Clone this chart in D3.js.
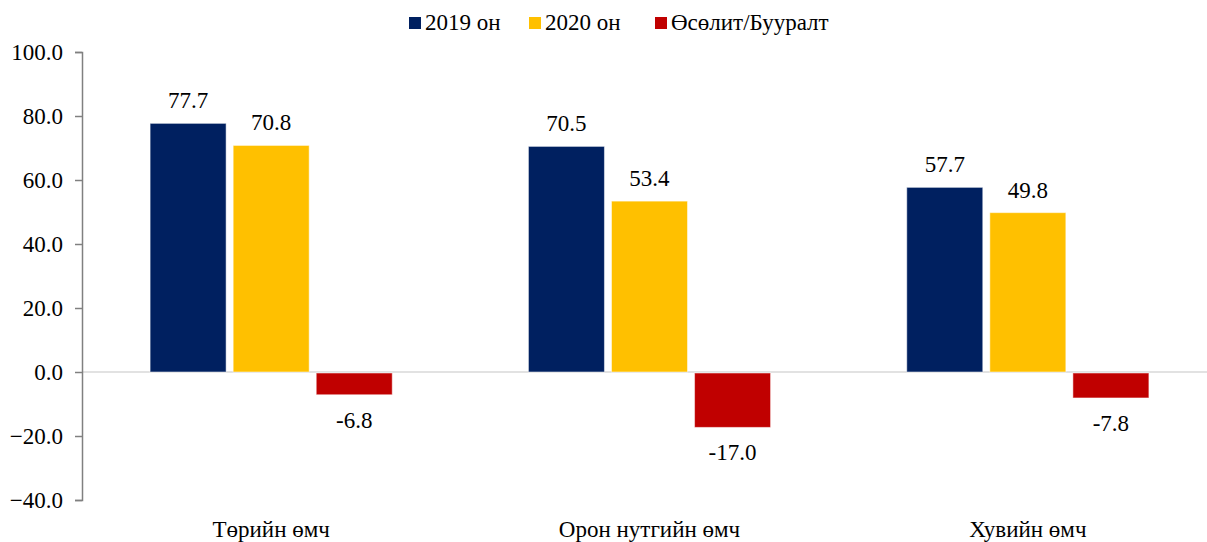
<!DOCTYPE html>
<html>
<head>
<meta charset="utf-8">
<script src="https://cdn.jsdelivr.net/npm/d3@7"></script>
<style>
  body { margin: 0; background: #fff; }
  svg text { font-family: "Liberation Serif", "Times New Roman", serif; }
</style>
</head>
<body>
<svg id="chart" width="1207" height="542"></svg>
<script>
// chart data
const categories = ["Төрийн өмч", "Орон нутгийн өмч", "Хувийн өмч"];
const seriesNames = ["2019 он", "2020 он", "Өсөлит/Бууралт"];
const values2019 = [77.7, 70.5, 57.7];
const values2020 = [70.8, 53.4, 49.8];
const valuesChange = [-6.8, -17.0, -7.8];
const yTicks = [-40, -20, 0, 20, 40, 60, 80, 100];

const colors = ["#002060", "#FFC000", "#C00000"];
const seriesValues = [values2019, values2020, valuesChange];

const FONT = "'Liberation Serif', 'Times New Roman', serif";
const FS = "23px";

const svg = d3.select("#chart");
const W = 1207, H = 542;
const margin = { left: 82, right: -10, top: 52, bottom: 42 };

const y = d3.scaleLinear()
  .domain([-40, 100])
  .range([H - margin.bottom, margin.top]);

const x0 = d3.scaleBand()
  .domain(categories)
  .range([margin.left, W - margin.right])
  .paddingInner(0.36)
  .paddingOuter(0.18);

const x1 = d3.scaleBand()
  .domain(d3.range(seriesNames.length))
  .range([0, x0.bandwidth()])
  .paddingInner(0.085);

// zero line
svg.append("line")
  .attr("x1", margin.left).attr("x2", W)
  .attr("y1", y(0)).attr("y2", y(0))
  .attr("stroke", "#d9d9d9").attr("stroke-width", 1.5);

// y axis
const yAxis = svg.append("g")
  .attr("transform", `translate(${margin.left},0)`)
  .call(d3.axisLeft(y).tickValues(yTicks).tickFormat(d3.format(".1f")).tickSize(7).tickPadding(12));
yAxis.attr("font-family", null).attr("font-size", null);
yAxis.select(".domain").attr("stroke", "#808080").attr("stroke-width", 1.5);
yAxis.selectAll(".tick line").attr("stroke", "#808080").attr("stroke-width", 1.5);
yAxis.selectAll(".tick text")
  .attr("fill", "#000")
  .style("font-family", FONT)
  .style("font-size", FS);

// bars
const groups = svg.append("g").selectAll("g")
  .data(categories)
  .join("g")
  .attr("transform", d => `translate(${x0(d)},0)`);

groups.each(function (cat, ci) {
  const g = d3.select(this);
  seriesValues.forEach((vals, si) => {
    const v = vals[ci];
    g.append("rect")
      .attr("x", x1(si))
      .attr("width", x1.bandwidth())
      .attr("y", v >= 0 ? y(v) : y(0) + 1)
      .attr("height", Math.abs(y(v) - y(0)))
      .attr("fill", colors[si])
      .attr("stroke", "#ffffff")
      .attr("stroke-opacity", 0.5)
      .attr("stroke-width", 1);

    g.append("text")
      .attr("x", x1(si) + x1.bandwidth() / 2)
      .attr("y", v >= 0 ? y(v) - 15 : y(v) + 34)
      .attr("text-anchor", "middle")
      .style("font-family", FONT)
      .style("font-size", FS)
      .text(v.toFixed(1));
  });
});

// category labels
svg.append("g").selectAll("text")
  .data(categories)
  .join("text")
  .attr("x", d => x0(d) + x0.bandwidth() / 2)
  .attr("y", 537)
  .attr("text-anchor", "middle")
  .style("font-family", FONT)
  .style("font-size", FS)
  .text(d => d);

// legend
const legendX = [409, 529, 655];
const legend = svg.append("g").selectAll("g")
  .data(seriesNames)
  .join("g")
  .attr("transform", (d, i) => `translate(${legendX[i]},17)`);
legend.append("rect")
  .attr("width", 12).attr("height", 12)
  .attr("fill", (d, i) => colors[i]);
legend.append("text")
  .attr("x", 16).attr("y", 13)
  .style("font-family", FONT)
  .style("font-size", FS)
  .text(d => d);
</script>
</body>
</html>
